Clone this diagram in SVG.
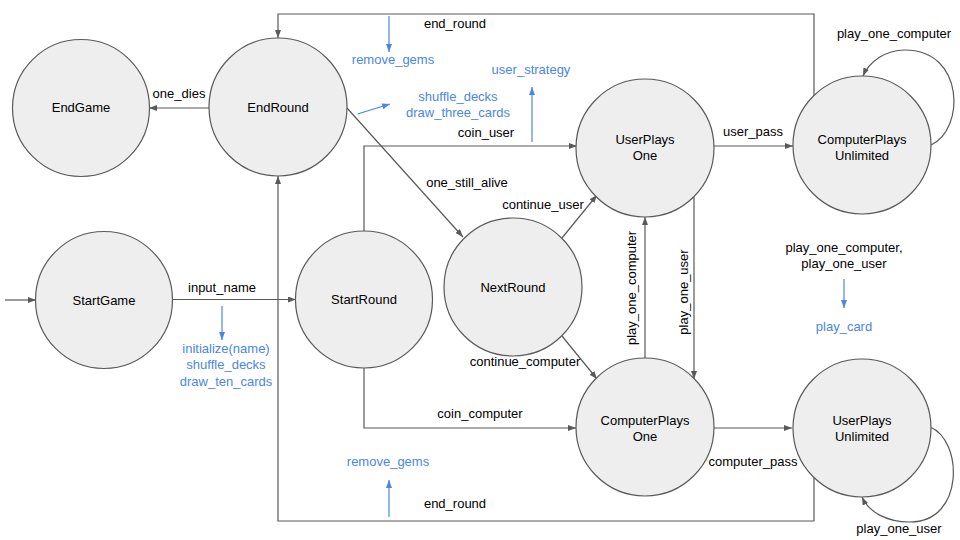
<svg xmlns="http://www.w3.org/2000/svg" width="960" height="540" viewBox="0 0 960 540">
<defs>
<style>
.node circle{fill:#eeeeee;stroke:#595959;stroke-width:1.2}
.t{font-family:"Liberation Sans",Arial,sans-serif;font-size:13px;fill:#000;text-anchor:middle}
.b{font-family:"Liberation Sans",Arial,sans-serif;font-size:13px;fill:#4a86e8;text-anchor:middle}
.c{fill:none;stroke:#595959;stroke-width:1.2;marker-end:url(#ah)}
.cn{fill:none;stroke:#595959;stroke-width:1.2}
.bl{fill:none;stroke:#4a86e8;stroke-width:1.2;marker-end:url(#bh)}
</style>
<marker id="ah" markerWidth="8" markerHeight="6" refX="8" refY="3" orient="auto" markerUnits="userSpaceOnUse"><path d="M0,0 L8,3 L0,6 z" fill="#595959"/></marker>
<marker id="bh" markerWidth="8" markerHeight="6" refX="8" refY="3" orient="auto" markerUnits="userSpaceOnUse"><path d="M0,0 L8,3 L0,6 z" fill="#4a86e8"/></marker>
</defs>
<rect width="960" height="540" fill="#ffffff"/>

<g id="connectors">
<path class="c" d="M5,300 L36,300"/>
<path class="c" d="M172,299.5 L296,299.5"/>
<path class="c" d="M364,231 L364,146 L577,146"/>
<path class="c" d="M364,368 L364,428 L576,428"/>
<path class="c" d="M814,95.5 L814,14 L278,14 L278,38"/>
<path class="c" d="M814,477.5 L814,521 L278,521 L278,176"/>
<path class="c" d="M209,108 L149,108"/>
<path class="c" d="M347,108 L463,237"/>
<path class="c" d="M562,238 L597,195"/>
<path class="c" d="M562,336 L597,379"/>
<path class="c" d="M645,358 L645,217"/>
<path class="c" d="M694,197 L694,379"/>
<path class="c" d="M713,146 L793,146"/>
<path class="c" d="M713,428 L792,428"/>
<path class="c" d="M931,145 C965,130 965,50 905,50 C885,50 869,62 863,76"/>
<path class="c" d="M930,427 C963,440 965,522 910,522 C886,522 869,512 862,497"/>
<text class="t" x="222" y="292">input_name</text>
<text class="t" x="486" y="137">coin_user</text>
<text class="t" x="480" y="418">coin_computer</text>
<text class="t" x="455" y="28">end_round</text>
<text class="t" x="455" y="508">end_round</text>
<text class="t" x="179" y="98">one_dies</text>
<text class="t" x="467" y="187">one_still_alive</text>
<text class="t" x="543" y="209">continue_user</text>
<text class="t" x="525" y="366">continue_computer</text>
<text class="t" transform="translate(636,288) rotate(-90)">play_one_computer</text>
<text class="t" transform="translate(688,292) rotate(-90)">play_one_user</text>
<text class="t" x="753" y="136">user_pass</text>
<text class="t" x="753" y="466">computer_pass</text>
<text class="t" x="894" y="38">play_one_computer</text>
<text class="t" x="899" y="533">play_one_user</text>
<text class="t" x="844" y="252">play_one_computer,</text>
<text class="t" x="844" y="268">play_one_user</text>
<path class="bl" d="M222,306 L222,340"/>
<path class="bl" d="M389,16 L389,52"/>
<path class="bl" d="M389,517 L389,480"/>
<path class="bl" d="M532,142 L532,87"/>
<path class="bl" d="M357.5,114 L390,104"/>
<path class="bl" d="M844,279 L844,308"/>
<text class="b" x="226" y="353">initialize(name)</text>
<text class="b" x="226" y="369">shuffle_decks</text>
<text class="b" x="226" y="386">draw_ten_cards</text>
<text class="b" x="393" y="64">remove_gems</text>
<text class="b" x="388" y="466">remove_gems</text>
<text class="b" x="531" y="74">user_strategy</text>
<text class="b" x="458" y="101">shuffle_decks</text>
<text class="b" x="458" y="117">draw_three_cards</text>
<text class="b" x="844" y="331">play_card</text>
</g>

<g id="EndGame" class="node"><circle cx="81" cy="108" r="68.5"/><text class="t" x="81" y="112">EndGame</text></g>
<g id="EndRound" class="node"><circle cx="278" cy="107" r="69"/><text class="t" x="278" y="112">EndRound</text></g>
<g id="StartGame" class="node"><circle cx="104" cy="300" r="68.5"/><text class="t" x="104" y="305">StartGame</text></g>
<g id="StartRound" class="node"><circle cx="364" cy="299.5" r="68.5"/><text class="t" x="364" y="304">StartRound</text></g>
<g id="NextRound" class="node"><circle cx="513" cy="287" r="69"/><text class="t" x="513" y="292">NextRound</text></g>
<g id="UserPlaysOne" class="node"><circle cx="645" cy="148" r="69"/><text class="t" x="645" y="144">UserPlays</text><text class="t" x="645" y="160">One</text></g>
<g id="ComputerPlaysUnlimited" class="node"><circle cx="862" cy="145" r="69"/><text class="t" x="862" y="144">ComputerPlays</text><text class="t" x="862" y="160">Unlimited</text></g>
<g id="ComputerPlaysOne" class="node"><circle cx="645" cy="427" r="69"/><text class="t" x="645" y="425">ComputerPlays</text><text class="t" x="645" y="441">One</text></g>
<g id="UserPlaysUnlimited" class="node"><circle cx="862" cy="428" r="69"/><text class="t" x="862" y="425">UserPlays</text><text class="t" x="862" y="441">Unlimited</text></g>
</svg>
